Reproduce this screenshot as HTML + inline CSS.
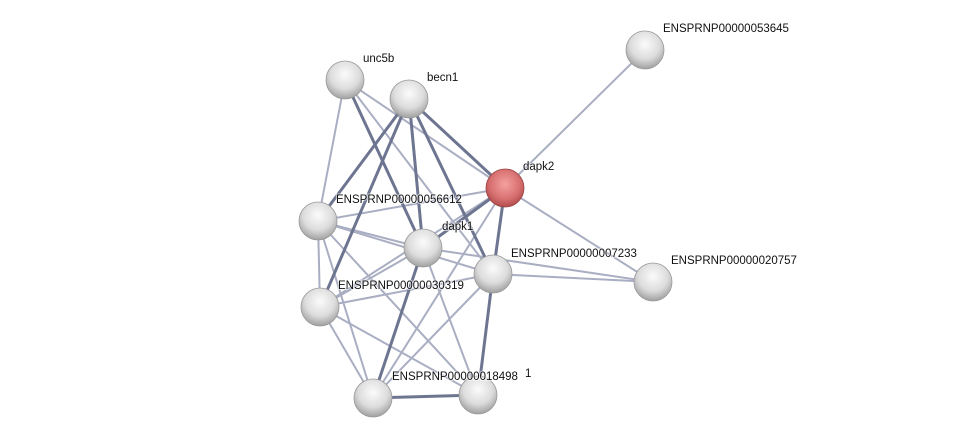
<!DOCTYPE html>
<html><head><style>
body{margin:0;background:#fff;}
svg{display:block;}
text{font-family:"Liberation Sans",sans-serif;font-size:11.5px;fill:#111;stroke:rgba(255,255,255,0.6);stroke-width:2px;paint-order:stroke;}
</style></head><body>
<svg width="975" height="443" viewBox="0 0 975 443">
<defs>
<radialGradient id="g" cx="50%" cy="35%" r="65%">
<stop offset="0" stop-color="#fbfbfb"/><stop offset="0.6" stop-color="#dcdcdc"/><stop offset="1" stop-color="#a0a0a0"/>
</radialGradient>
<radialGradient id="r" cx="50%" cy="40%" r="65%">
<stop offset="0" stop-color="#f4a0a0"/><stop offset="0.6" stop-color="#d87070"/><stop offset="1" stop-color="#a84545"/>
</radialGradient>
</defs>
<g stroke-linecap="round">
<g stroke="#a9aec3" stroke-width="2">
<line x1="505" y1="188" x2="645" y2="50"/>
<line x1="505" y1="188" x2="653" y2="282"/>
<line x1="505" y1="188" x2="318" y2="221"/>
<line x1="505" y1="188" x2="320" y2="307"/>
<line x1="505" y1="188" x2="373" y2="398"/>
<line x1="345" y1="80" x2="318" y2="221"/>
<line x1="345" y1="80" x2="505" y2="188"/>
<line x1="345" y1="80" x2="493" y2="274"/>
<line x1="318" y1="221" x2="423" y2="248"/>
<line x1="318" y1="221" x2="493" y2="274"/>
<line x1="318" y1="221" x2="320" y2="307"/>
<line x1="318" y1="221" x2="373" y2="398"/>
<line x1="318" y1="221" x2="478" y2="395"/>
<line x1="423" y1="248" x2="320" y2="307"/>
<line x1="423" y1="248" x2="653" y2="282"/>
<line x1="493" y1="274" x2="653" y2="282"/>
<line x1="493" y1="274" x2="373" y2="398"/>
<line x1="493" y1="274" x2="320" y2="307"/>
<line x1="320" y1="307" x2="478" y2="395"/>
<line x1="320" y1="307" x2="373" y2="398"/>
<line x1="423" y1="248" x2="478" y2="395"/>
<line x1="505" y1="188" x2="423" y2="248"/>
</g>
<g stroke="#6e7590" stroke-width="3">
<line x1="345" y1="80" x2="423" y2="248"/>
<line x1="409" y1="99" x2="318" y2="221"/>
<line x1="409" y1="99" x2="320" y2="307"/>
<line x1="409" y1="99" x2="423" y2="248"/>
<line x1="409" y1="99" x2="493" y2="274"/>
<line x1="409" y1="99" x2="505" y2="188"/>
<line x1="505" y1="188" x2="493" y2="274"/>
<line x1="505" y1="188" x2="423" y2="248"/>
<line x1="493" y1="274" x2="478" y2="395"/>
<line x1="373" y1="398" x2="478" y2="395"/>
<line x1="423" y1="248" x2="373" y2="398"/>
</g>
</g>
<g>
<circle cx="345" cy="80" r="19" fill="url(#g)" stroke="#999" stroke-width="0.8"/>
<circle cx="409" cy="99" r="19" fill="url(#g)" stroke="#999" stroke-width="0.8"/>
<circle cx="645" cy="50" r="19" fill="url(#g)" stroke="#999" stroke-width="0.8"/>
<circle cx="505" cy="188" r="19" fill="url(#r)" stroke="#944" stroke-width="0.8"/>
<circle cx="318" cy="221" r="19" fill="url(#g)" stroke="#999" stroke-width="0.8"/>
<circle cx="423" cy="248" r="19" fill="url(#g)" stroke="#999" stroke-width="0.8"/>
<circle cx="493" cy="274" r="19" fill="url(#g)" stroke="#999" stroke-width="0.8"/>
<circle cx="653" cy="282" r="19" fill="url(#g)" stroke="#999" stroke-width="0.8"/>
<circle cx="320" cy="307" r="19" fill="url(#g)" stroke="#999" stroke-width="0.8"/>
<circle cx="373" cy="398" r="19" fill="url(#g)" stroke="#999" stroke-width="0.8"/>
<circle cx="478" cy="395" r="19" fill="url(#g)" stroke="#999" stroke-width="0.8"/>
</g>
<text x="363" y="62">unc5b</text>
<text x="427" y="81">becn1</text>
<text x="663" y="32">ENSPRNP00000053645</text>
<text x="523" y="170">dapk2</text>
<text x="336" y="203">ENSPRNP00000056612</text>
<text x="442" y="230">dapk1</text>
<text x="511" y="257">ENSPRNP00000007233</text>
<text x="671" y="264">ENSPRNP00000020757</text>
<text x="338" y="289">ENSPRNP00000030319</text>
<text x="525" y="377">1</text>
<text x="392" y="380">ENSPRNP00000018498</text>
</svg>
</body></html>
